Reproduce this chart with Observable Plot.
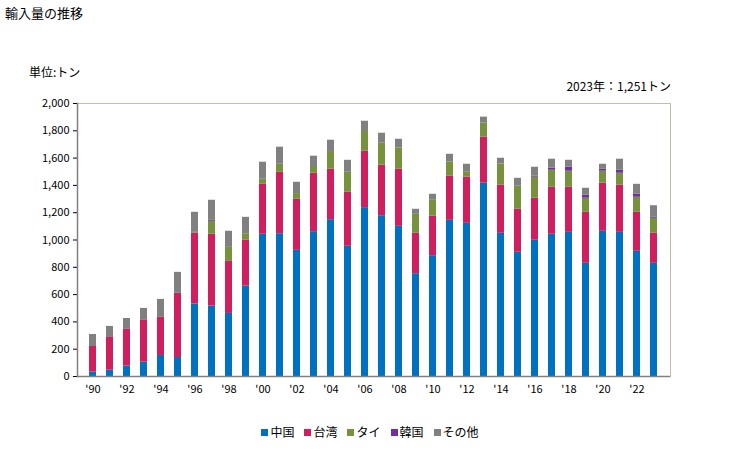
<!DOCTYPE html>
<html>
<head>
<meta charset="utf-8">
<script src="https://cdn.jsdelivr.net/npm/d3@7"></script>
<script src="https://cdn.jsdelivr.net/npm/@observablehq/plot@0.6"></script>
<style>
  body { margin: 0; background: #fff; font-family: "Noto Sans CJK JP", sans-serif; }
  #wrap { position: relative; width: 729px; height: 450px; }
  .t { position: absolute; white-space: nowrap; color: #000; }
  #legend { position: absolute; top: 423px; left: 0; width: 740px; display: flex; justify-content: center; gap: 10px; font-size: 12px; }
  #legend span.sw { display: inline-block; width: 7px; height: 7px; margin-right: 2px; vertical-align: 1px; }
</style>
</head>
<body>
<div id="wrap">
  <div class="t" style="left:5px; top:3px; font-size:13px;">輸入量の推移</div>
  <div class="t" style="left:29px; top:63px; font-size:12px;">単位:トン</div>
  <div class="t" style="right:58px; top:77px; font-size:12px;">2023年：1,251トン</div>
  <div id="chart"></div>
  <div id="legend"></div>
</div>
<script>
const years = d3.range(1990, 2024);
const seriesNames = ["中国", "台湾", "タイ", "韓国", "その他"];
const colors = ["#0070C0", "#D01F5F", "#76923C", "#7030A0", "#808080"];
const china  = [32,46,76,105,154,139,531,516,462,663,1042,1046,924,1061,1149,954,1237,1178,1100,753,885,1144,1122,1416,1049,910,998,1042,1056,829,1064,1056,917,829];
const taiwan = [188,240,269,306,279,470,518,526,381,335,366,450,374,428,369,396,413,370,418,296,289,323,338,337,352,315,308,344,330,374,352,345,286,220];
const thai   = [0,0,0,0,0,0,7,95,103,48,37,59,42,42,130,146,145,161,157,139,117,105,36,103,156,169,154,125,118,103,88,88,110,110];
const korea  = [0,0,0,0,0,0,0,7,0,0,0,0,0,0,0,0,0,0,0,0,0,0,0,0,0,0,7,15,29,22,14,22,22,7];
const other  = [88,81,80,88,132,154,147,147,118,120,125,125,83,83,83,88,75,73,63,37,44,56,59,44,42,58,66,66,51,51,37,81,73,85];
const yTicks = [0,200,400,600,800,1000,1200,1400,1600,1800,2000];

const seriesValues = [china, taiwan, thai, korea, other];
const data = [];
seriesNames.forEach((s, i) => years.forEach((y, j) => data.push({year: y, series: s, value: seriesValues[i][j]})));

const chart = Plot.plot({
  width: 729,
  height: 410,
  marginTop: 103,
  marginLeft: 77,
  marginRight: 59,
  marginBottom: 34,
  style: {fontFamily: "'Noto Sans CJK JP', sans-serif", fontSize: "11px", color: "#000"},
  x: {type: "band", domain: years, paddingInner: 0.58, paddingOuter: 0.33, label: null, tickSize: 0, tickPadding: 9,
      tickFormat: d => d % 2 === 0 ? "'" + String(d).slice(2) : ""},
  y: {domain: [0, 2000], ticks: yTicks, tickFormat: d3.format(","), label: null, tickSize: 4, tickPadding: 4},
  color: {domain: seriesNames, range: colors},
  marks: [
    Plot.frame({stroke: "#c4bea4"}),
    Plot.frame({anchor: "left", stroke: "#808080", strokeWidth: 1.5}),
    Plot.barY(data, {x: "year", y: "value", fill: "series", order: seriesNames}),
    Plot.ruleY([0], {stroke: "#808080", strokeWidth: 1.5})
  ]
});
document.getElementById("chart").appendChild(chart);

const legend = document.getElementById("legend");
seriesNames.forEach((s, i) => {
  const item = document.createElement("div");
  item.innerHTML = `<span class="sw" style="background:${colors[i]}"></span>${s}`;
  legend.appendChild(item);
});
</script>
</body>
</html>
